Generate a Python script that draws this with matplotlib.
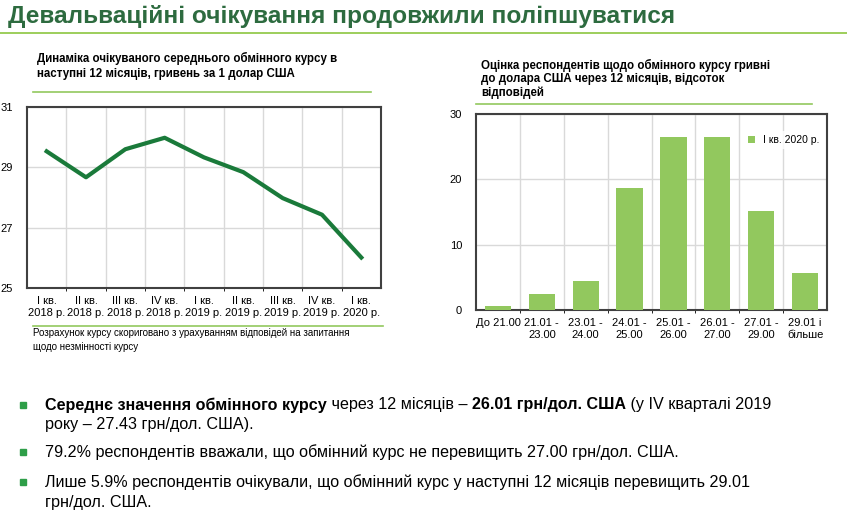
import matplotlib
matplotlib.use("Agg")
import matplotlib.pyplot as plt
from matplotlib.lines import Line2D
from matplotlib.patches import Rectangle

quarters = ["I кв.\n2018 р.", "II кв.\n2018 р.", "III кв.\n2018 р.", "IV кв.\n2018 р.", "I кв.\n2019 р.",
            "II кв.\n2019 р.", "III кв.\n2019 р.", "IV кв.\n2019 р.", "I кв.\n2020 р."]
expected_rate = [29.53, 28.67, 29.6, 29.98, 29.33, 28.84, 27.98, 27.43, 26.01]
ranges = ["До 21.00", "21.01 -\n23.00", "23.01 -\n24.00", "24.01 -\n25.00", "25.01 -\n26.00",
          "26.01 -\n27.00", "27.01 -\n29.00", "29.01 і\nбільше"]
shares = [0.6, 2.4, 4.5, 18.7, 26.5, 26.5, 15.1, 5.7]

W, H = 847, 515
fig = plt.figure(figsize=(W/100, H/100), dpi=100)
plt.rcParams["font.family"] = "Liberation Sans"

def ax_px(x0, y0, x1, y1):
    return fig.add_axes([x0/W, 1-y1/H, (x1-x0)/W, (y1-y0)/H])

def txt(x, y, s, **kw):
    return fig.text(x/W, 1-y/H, s, **kw)

def hline(x0, x1, y, c, lw):
    fig.add_artist(Line2D([x0/W, x1/W], [1-y/H, 1-y/H], color=c, lw=lw, transform=fig.transFigure))

green = "#1a7a3a"
lgreen = "#92c85e"
txt(8, 16, "Девальваційні очікування продовжили поліпшуватися", fontsize=17.6, fontweight="bold",
    color="#2d6b3f", va="center")
hline(0, 847, 33, "#8cc63f", 1.2)

# left chart
txt(37, 66, "Динаміка очікуваного середнього обмінного курсу в\nнаступні 12 місяців, гривень за 1 долар США",
    fontsize=8.3, fontweight="bold", va="center", linespacing=1.3)
hline(33, 371, 92, lgreen, 1.2)
ax = ax_px(27, 107, 381, 288)
x = list(range(len(quarters)))
ax.plot(x, expected_rate, color=green, lw=3)
ax.set_xlim(-0.5, len(quarters)-0.5)
ax.set_ylim(25, 31)
ax.set_yticks([25, 27, 29, 31])
ax.set_xticks(x)
ax.set_xticklabels(quarters, fontsize=7.5)
ax.set_xticks([i+0.5 for i in x[:-1]], minor=True)
ax.grid(True, which="minor", axis="x", color="#d9d9d9", lw=1)
ax.grid(True, which="major", axis="y", color="#d9d9d9", lw=1)
ax.tick_params(axis="both", length=0, labelsize=8)
ax.tick_params(axis="y", pad=10)
ax.tick_params(axis="x", pad=6)
for s in ax.spines.values():
    s.set_color("#404040"); s.set_linewidth(1.5)
hline(33, 383, 326, lgreen, 1.2)
txt(33, 340, "Розрахунок курсу скориговано з урахуванням відповідей на запитання\nщодо незмінності курсу",
    fontsize=7, va="center", linespacing=1.4)

# right chart
txt(481, 79, "Оцінка респондентів щодо обмінного курсу гривні\nдо долара США через 12 місяців, відсоток\nвідповідей",
    fontsize=8.3, fontweight="bold", va="center", linespacing=1.15)
hline(476, 812, 104, lgreen, 1.2)
ax2 = ax_px(476, 114, 827, 310)
xb = list(range(len(ranges)))
ax2.bar(xb, shares, width=0.6, color=lgreen, label="І кв. 2020 р.", zorder=3)
ax2.set_xlim(-0.5, len(ranges)-0.5)
ax2.set_ylim(0, 30)
ax2.set_yticks([0, 10, 20, 30])
ax2.set_xticks(xb)
ax2.set_xticklabels(ranges, fontsize=7.8)
ax2.set_xticks([i+0.5 for i in xb[:-1]], minor=True)
ax2.grid(True, which="minor", axis="x", color="#d9d9d9", lw=1)
ax2.grid(True, which="major", axis="y", color="#d9d9d9", lw=1)
ax2.tick_params(axis="both", length=0, labelsize=8)
ax2.tick_params(axis="y", pad=10)
ax2.tick_params(axis="x", pad=6)
for s in ax2.spines.values():
    s.set_color("#404040"); s.set_linewidth(1.5)
ax2.legend(loc="upper right", bbox_to_anchor=(1.0, 0.93), frameon=True, facecolor="white",
           edgecolor="none", fontsize=7.5, handlelength=0.7, handleheight=0.7, borderaxespad=0.3)

# bullets
fs = 11.6
def bullet(y):
    fig.add_artist(Rectangle((20/W, 1-(y+3)/H), 6/W, 6/H, color="#2e9e48", transform=fig.transFigure))

renderer = fig.canvas.get_renderer()
def chain(x, y, parts):
    for s, bold in parts:
        t = txt(x, y, s, fontsize=fs, fontweight="bold" if bold else "normal", va="center")
        bb = t.get_window_extent(renderer)
        x += bb.width

bullet(405)
chain(45, 405, [("Середнє значення обмінного курсу", True), (" через 12 місяців – ", False),
                ("26.01 грн/дол. США", True), (" (у IV кварталі 2019", False)])
txt(45, 424, "року – 27.43 грн/дол. США).", fontsize=fs, va="center")
bullet(452)
txt(45, 452, "79.2% респондентів вважали, що обмінний курс не перевищить 27.00 грн/дол. США.", fontsize=fs, va="center")
bullet(482)
txt(45, 482, "Лише 5.9% респондентів очікували, що обмінний курс у наступні 12 місяців перевищить 29.01",
    fontsize=fs, va="center")
txt(45, 502, "грн/дол. США.", fontsize=fs, va="center")

fig.savefig("out.png", dpi=100, facecolor="white")
